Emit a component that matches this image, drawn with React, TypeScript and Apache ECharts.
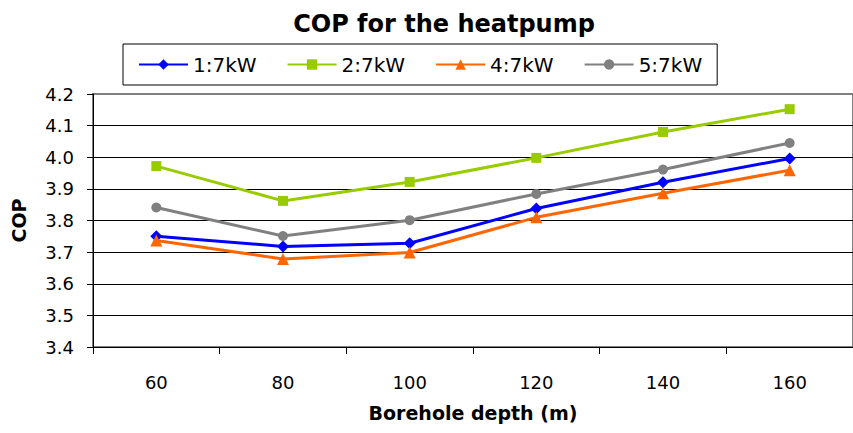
import React, { useEffect, useRef } from "react";
import * as echarts from "echarts";

const depths = ["60", "80", "100", "120", "140", "160"];
const seriesNames = ["1:7kW", "2:7kW", "4:7kW", "5:7kW"];
const cop1 = [3.75, 3.718, 3.728, 3.838, 3.921, 3.996];
const cop2 = [3.972, 3.862, 3.922, 3.998, 4.08, 4.152];
const cop4 = [3.737, 3.678, 3.699, 3.81, 3.886, 3.959];
const cop5 = [3.841, 3.751, 3.801, 3.884, 3.961, 4.045];
const colors = ["#0000FF", "#99CC00", "#FF6600", "#808080"];
const symbols = ["diamond", "rect", "triangle", "circle"];
const symbolSizes = [12, 10, 12, 10];

const FONT = "DejaVu Sans";

export default function App() {
  const ref = useRef<HTMLDivElement>(null);
  useEffect(() => {
    if (!ref.current) return;
    const chart = echarts.init(ref.current, undefined, { renderer: "svg" });
    const data = [cop1, cop2, cop4, cop5];
    chart.setOption({
      animation: false,
      backgroundColor: "#ffffff",
      textStyle: { fontFamily: FONT },
      graphic: [
        {
          type: "text",
          x: 444,
          y: 24,
          style: {
            text: "COP for the heatpump",
            font: `bold 24px '${FONT}'`,
            fill: "#000",
            textAlign: "center",
            textVerticalAlign: "middle",
          },
        },
      ],
      legend: {
        left: 123,
        top: 44,
        padding: [10, 15, 10, 15],
        borderColor: "#000",
        borderWidth: 1,
        itemWidth: 49,
        itemHeight: 13,
        itemGap: 30,
        data: seriesNames,
        textStyle: { fontFamily: FONT, fontSize: 20, color: "#000", lineHeight: 21 },
      },
      grid: {
        left: 93,
        top: 94,
        right: -8,
        bottom: 86,
        show: true,
        borderColor: "#808080",
        borderWidth: 2,
      },
      xAxis: {
        type: "category",
        data: depths,
        boundaryGap: true,
        name: "Borehole depth (m)",
        nameLocation: "middle",
        nameGap: 56,
        nameTextStyle: { fontFamily: FONT, fontSize: 19, fontWeight: "bold", color: "#000" },
        axisLine: { lineStyle: { color: "#000", width: 1 } },
        axisTick: { show: true, length: 7, lineStyle: { color: "#000" } },
        axisLabel: { margin: 26, fontFamily: FONT, fontSize: 18, color: "#000" },
        splitLine: { show: false },
      },
      yAxis: {
        type: "value",
        min: 3.4,
        max: 4.2,
        interval: 0.1,
        name: "COP",
        nameLocation: "middle",
        nameGap: 65,
        nameRotate: 90,
        nameTextStyle: { fontFamily: FONT, fontSize: 19, fontWeight: "bold", color: "#000" },
        axisLine: { show: true, lineStyle: { color: "#000", width: 1 } },
        axisTick: { show: true, length: 6, lineStyle: { color: "#000" } },
        axisLabel: {
          margin: 19,
          fontFamily: FONT,
          fontSize: 18,
          color: "#000",
          formatter: (v: number) => v.toFixed(1),
        },
        splitLine: {
          show: true,
          lineStyle: {
            color: ["#000", "#000", "#000", "#000", "#000", "#000", "#000", "#000", "#808080"],
            width: 1,
          },
        },
      },
      series: seriesNames.map((name, i) => ({
        name,
        type: "line",
        data: data[i],
        symbol: symbols[i],
        symbolSize: symbolSizes[i],
        showAllSymbol: true,
        lineStyle: { color: colors[i], width: 3 },
        itemStyle: { color: colors[i], borderWidth: 0 },
        emphasis: { disabled: true },
      })),
    });
    return () => chart.dispose();
  }, []);
  return (
    <div
      ref={ref}
      style={{ position: "fixed", left: 0, top: 0, width: 853, height: 433, background: "#fff" }}
    />
  );
}
